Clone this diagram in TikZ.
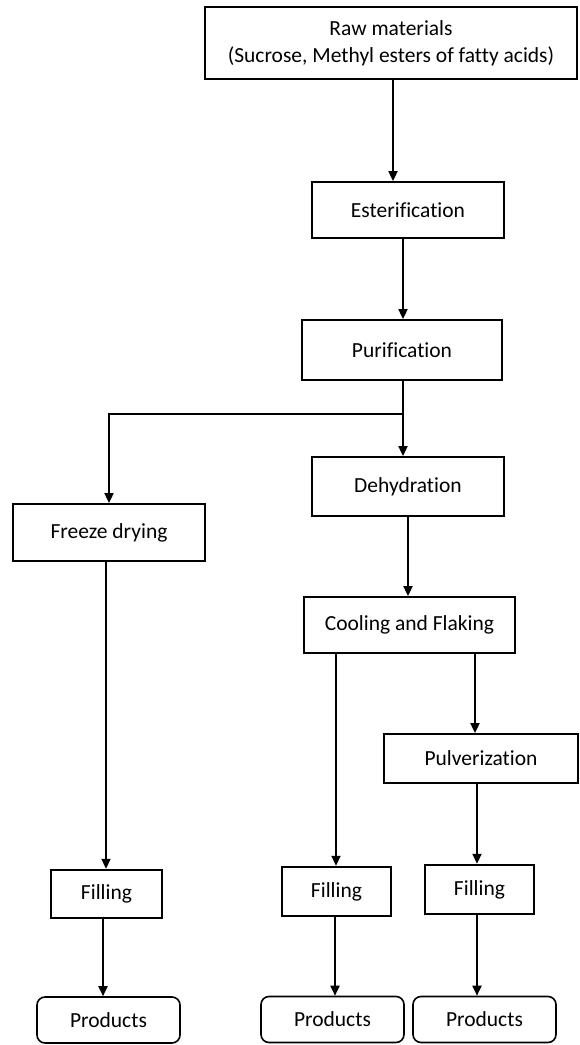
\documentclass[tikz,border=0pt]{standalone}
\usepackage{fontspec}
\setmainfont{Carlito}[Ligatures=NoCommon]
\usetikzlibrary{arrows.meta}
\tikzset{
	stage/.style={draw, line width=1.8pt, inner sep=0pt, align=center},
	fillbox/.style={draw, line width=2.4pt, inner sep=0pt},
	endbox/.style={draw, line width=1.6pt, rounded corners=8pt, inner sep=0pt},
	flow/.style={line width=1.8pt, -{Triangle[length=10pt,width=9pt]}}
}

\begin{document}
\begin{tikzpicture}[x=1pt, y=-1pt, font=\fontsize{21.5}{27}\selectfont]
			%%%%% START %%%%%
			\useasboundingbox (0, 0) rectangle (579, 1045);
			
			\node[stage, minimum width=372pt, minimum height=72pt] (raw) at (391, 43) {Raw materials\\(Sucrose, Methyl esters of fatty acids)};
			\node[stage, minimum width=192pt, minimum height=56pt] (ester) at (408, 210) {Esterification};
			\node[stage, minimum width=200pt, minimum height=60pt] (purif) at (402, 350) {Purification};
			\node[stage, minimum width=192pt, minimum height=59pt] (dehyd) at (408, 486.5) {Dehydration};
			\node[stage, minimum width=192pt, minimum height=57pt] (freeze) at (109, 532.5) {Freeze drying};
			\node[stage, minimum width=211pt, minimum height=56pt] (cool) at (409.5, 625) {Cooling and Flaking};
			\node[stage, minimum width=194pt, minimum height=49pt] (pulv) at (481, 758.5) {Pulverization};
			
			\node[fillbox, minimum width=111pt, minimum height=48pt] (fillA) at (106.5, 894) {Filling};
			\node[fillbox, minimum width=109pt, minimum height=49pt] (fillB) at (336.5, 891.5) {Filling};
			\node[fillbox, minimum width=109pt, minimum height=49pt] (fillC) at (479.5, 889.5) {Filling};
			
			\node[endbox, minimum width=143pt, minimum height=46pt] (prodA) at (108.5, 1020) {Products};
			\node[endbox, minimum width=143pt, minimum height=46pt] (prodB) at (332.5, 1019.5) {Products};
			\node[endbox, minimum width=143pt, minimum height=46pt] (prodC) at (484.5, 1019.5) {Products};
			
			\coordinate (split) at (403, 414);
			
			\draw[flow] (raw.south -| 393, 0) -- (ester.north -| 393, 0);
			\draw[flow] (ester.south -| 403, 0) -- (purif.north -| 403, 0);
			\draw[line width=1.8pt] (purif.south -| split) -- (split);
			\draw[flow] (split) -- (dehyd.north -| split);
			\draw[flow] (split) -| (freeze.north);
			\draw[flow] (dehyd.south) -- (cool.north -| dehyd.south);
			\draw[flow] (freeze.south -| 106, 0) -- (fillA.north -| 106, 0);
			\draw[flow] (cool.south -| 336, 0) -- (fillB.north -| 336, 0);
			\draw[flow] (cool.south -| 475, 0) -- (pulv.north -| 475, 0);
			\draw[flow] (pulv.south -| 477, 0) -- (fillC.north -| 477, 0);
			
			\draw[flow] (fillA.south -| 103, 0) -- (prodA.north -| 103, 0);
			\draw[flow] (fillB.south -| 335, 0) -- (prodB.north -| 335, 0);
			\draw[flow] (fillC.south -| 477, 0) -- (prodC.north -| 477, 0);
			%%%%% END %%%%%
\end{tikzpicture}
\end{document}
